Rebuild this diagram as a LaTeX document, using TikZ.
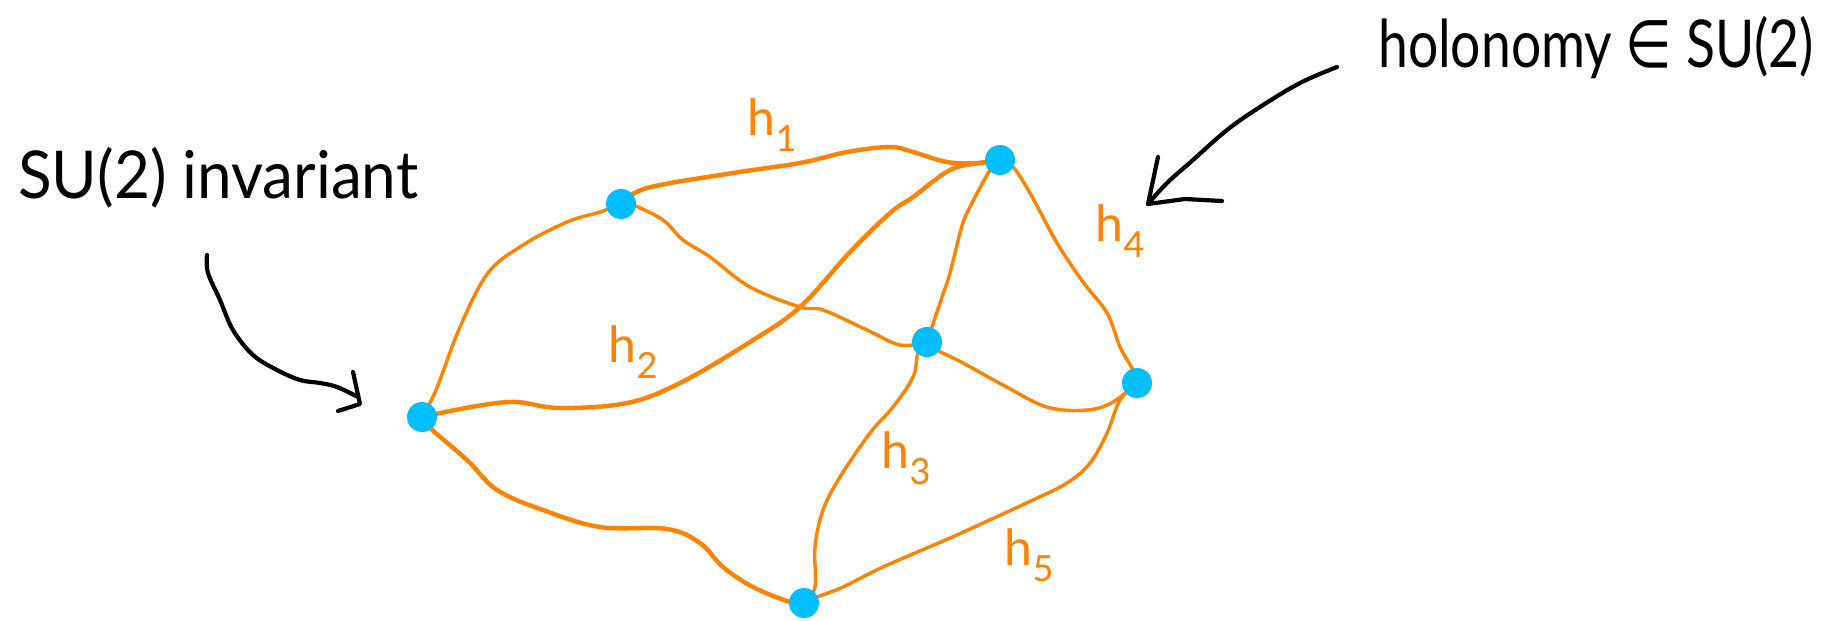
\documentclass[tikz,border=0pt]{standalone}
\usepackage{fontspec}
\setmainfont{Lato}
\newfontfamily\symfont{DejaVu Sans}
\usetikzlibrary{backgrounds}
\definecolor{edgeor}{RGB}{255,130,0}
\definecolor{vblue}{RGB}{0,190,255}
\newcommand{\hlab}[1]{h\raisebox{-0.32em}{\fontsize{36}{40}\selectfont #1}}
\begin{document}
\begin{tikzpicture}[x=1pt,y=-1pt,
  vertex/.style={circle,fill=vblue,inner sep=0pt,minimum size=30pt},
  edge/.style={draw=edgeor,line width=3.4pt,line cap=round,line join=round},
  thickedge/.style={edge,line width=4.4pt},
  lab/.style={text=edgeor,font=\fontsize{50}{56}\selectfont,inner sep=0pt},
  note/.style={font=\fontsize{66}{72}\selectfont,inner sep=0pt,anchor=base west},
  pointer/.style={draw=black,line width=4.2pt,line cap=round,line join=round}]
\useasboundingbox (0,0) rectangle (1837,621);
% vertices
\node[vertex] (A) at (422,417) {};
\node[vertex] (B) at (621,204) {};
\node[vertex] (C) at (1000,160) {};
\node[vertex] (D) at (927,342) {};
\node[vertex] (E) at (1137,383) {};
\node[vertex] (F) at (804,603) {};
% edge labels
\node[lab] (h1) at (772,125) {\hlab{1}};
\node[lab] (h2) at (633,352) {\hlab{2}};
\node[lab] (h3) at (906,458) {\hlab{3}};
\node[lab] (h4) at (1120,231) {\hlab{4}};
\node[lab] (h5) at (1029,555) {\hlab{5}};
% notes
\node[note] (inv) at (18,198) {\scalebox{0.94}[1]{SU(2) invariant}};
\node[note] (hol) at (1378,67) {\scalebox{0.81}[1]{holonomy {\symfont ∈} SU(2)}};
\coordinate (ls) at (207,255);
\coordinate (lt) at (360,404);
\coordinate (rs) at (1337,67);
\coordinate (rt) at (1148,204);
\begin{scope}[on background layer]
\draw[edge] plot[smooth,tension=0.6] coordinates {(A) (436,390) (460,327) (488,273) (523,245) (567,222) (600,212) (B)};
\draw[thickedge] plot[smooth,tension=0.6] coordinates {(B) (647,188) (733,173) (800,163) (847,152) (890,147) (913,152) (947,162) (977,163) (C)};
\draw[thickedge] plot[smooth,tension=0.6] coordinates {(A) (440,413) (483,405) (517,402) (560,408) (627,403) (680,383) (750,342) (800,307) (850,252) (890,213) (913,197) (950,170) (980,163) (C)};
\draw[edge] plot[smooth,tension=0.6] coordinates {(B) (633,205) (663,220) (683,240) (710,257) (750,287) (800,307) (823,310) (867,330) (900,345) (D)};
\draw[edge] plot[smooth,tension=0.6] coordinates {(C) (990,170) (967,213) (960,233) (950,273) (942,297) (D)};
\draw[edge] plot[smooth,tension=0.6] coordinates {(C) (1013,167) (1030,193) (1057,243) (1083,282) (1107,313) (1120,347) (1133,370) (E)};
\draw[edge] plot[smooth,tension=0.6] coordinates {(D) (937,350) (963,363) (1003,385) (1047,407) (1087,410) (1113,402) (E)};
\draw[edge] plot[smooth,tension=0.6] coordinates {(E) (1120,400) (1107,433) (1090,463) (1067,483) (1033,500) (983,523) (950,538) (883,567) (843,587) (817,597) (F)};
\draw[edge] plot[smooth,tension=0.6] coordinates {(D) (918,353) (913,377) (893,407) (870,433) (840,477) (823,510) (815,547) (815,587) (F)};
\draw[thickedge] plot[smooth,tension=0.6] coordinates {(A) (430,428) (467,460) (497,490) (543,510) (600,527) (667,529) (700,543) (723,567) (753,587) (790,602) (F)};
\end{scope}
% pointers
\draw[pointer] plot[smooth,tension=0.6] coordinates {(ls) (208,273) (220,300) (233,330) (253,355) (277,370) (300,380) (320,383) (337,387) (358,397)};
\draw[pointer] (353,372) -- (lt) -- (338,411);
\draw[pointer] plot[smooth,tension=0.6] coordinates {(rs) (1300,83) (1260,107) (1227,130) (1193,160) (1167,183) (rt)};
\draw[pointer] (1158,157) -- (rt) -- (1185,199) -- (1222,201);
\end{tikzpicture}
\end{document}
